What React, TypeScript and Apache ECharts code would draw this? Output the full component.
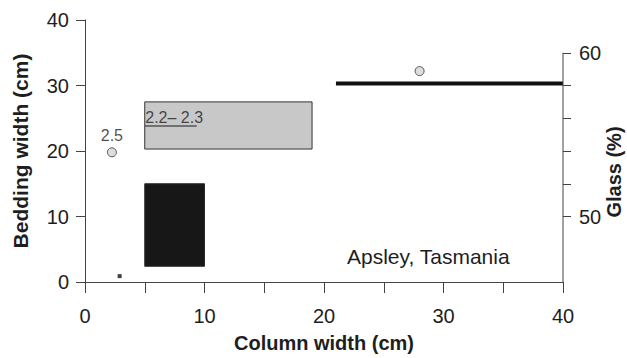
import React, { useEffect, useRef } from "react";
import * as echarts from "echarts";

const FONT = "'Liberation Sans', Arial, Helvetica, sans-serif";

// Data
const xTickValues = [0, 5, 10, 15, 20, 25, 30, 35, 40];
const xLabelValues = [0, 10, 20, 30, 40];
const yLeftValues = [0, 10, 20, 30, 40];
const glassTickValues = [50, 52, 54, 56, 58, 60];
const glassLabelValues = [50, 60];
// boxes: [x0, x1, y0, y1]
const rectBoxes = [
  [5, 19, 20.3, 27.5],
  [5, 10, 2.4, 15],
];
const rectFills = ["#c8c8c8", "#171717"];
const rectStrokes = ["#333333", "#2a2a2a"];
const glassBar = [
  [21, 30.3],
  [40, 30.3],
];
const densityUnderline = [
  [5, 23.8],
  [9.35, 23.8],
];
const circlePoints = [
  [2.25, 19.8],
  [28, 32.2],
];
const circleLabels = ["2.5", ""];
const squarePoints = [[2.9, 0.9]];
const rangeLabelPoint = [[5, 23.8]];
const rangeLabel = "2.2\u2013 2.3";
const glassAxisLine = [
  [40, 46],
  [40, 60],
];

export default function App() {
  const ref = useRef<HTMLDivElement>(null);
  useEffect(() => {
    if (!ref.current) return;
    const chart = echarts.init(ref.current, null, { renderer: "svg" });
    const axisColor = "#444";
    const textColor = "#1e1e1e";
    chart.setOption({
      animation: false,
      backgroundColor: "#ffffff",
      grid: { left: 85, right: 64, top: 20, bottom: 70 },
      xAxis: {
        type: "value",
        min: 0,
        max: 40,
        interval: 5,
        name: "Column width (cm)",
        nameLocation: "middle",
        nameGap: 51,
        nameTextStyle: { fontFamily: FONT, fontSize: 20, fontWeight: "bold", color: textColor },
        axisLine: { show: true, lineStyle: { color: axisColor, width: 1 } },
        axisTick: { show: true, length: 11, customValues: xTickValues, lineStyle: { color: axisColor } },
        axisLabel: { customValues: xLabelValues, fontFamily: FONT, fontSize: 20, color: textColor, margin: 24 },
        splitLine: { show: false },
      },
      yAxis: [
        {
          type: "value",
          min: 0,
          max: 40,
          interval: 10,
          name: "Bedding width (cm)",
          nameLocation: "middle",
          nameGap: 54,
          nameTextStyle: { fontFamily: FONT, fontSize: 21, fontWeight: "bold", color: textColor },
          axisLine: { show: true, lineStyle: { color: axisColor, width: 1 } },
          axisTick: { show: true, length: 9, customValues: yLeftValues, lineStyle: { color: axisColor } },
          axisLabel: { customValues: yLeftValues, fontFamily: FONT, fontSize: 20, color: textColor, margin: 16 },
          splitLine: { show: false },
        },
        {
          type: "value",
          position: "right",
          min: 46,
          max: 62,
          axisLine: { show: false },
          axisTick: { show: true, length: 8, customValues: glassTickValues, lineStyle: { color: axisColor } },
          axisLabel: { customValues: glassLabelValues, fontFamily: FONT, fontSize: 20, color: textColor, margin: 16 },
          splitLine: { show: false },
        },
      ],
      graphic: [
        {
          type: "text",
          x: 347,
          y: 256,
          style: { text: "Apsley, Tasmania", fontFamily: FONT, fontSize: 21, fill: textColor, textAlign: "left", textVerticalAlign: "middle" },
        },
        {
          type: "text",
          x: 614,
          y: 172,
          rotation: Math.PI / 2,
          style: { text: "Glass (%)", fontFamily: FONT, fontSize: 20, fontWeight: "bold", fill: textColor, textAlign: "center", textVerticalAlign: "middle" },
        },
      ],
      series: [
        {
          type: "custom",
          data: rectBoxes,
          encode: { x: [0, 1], y: [2, 3] },
          renderItem: (params: any, api: any) => {
            const p0 = api.coord([api.value(0), api.value(3)]);
            const p1 = api.coord([api.value(1), api.value(2)]);
            return {
              type: "rect",
              shape: { x: p0[0], y: p0[1], width: p1[0] - p0[0], height: p1[1] - p0[1] },
              style: { fill: rectFills[params.dataIndex], stroke: rectStrokes[params.dataIndex], lineWidth: 1 },
            };
          },
        },
        {
          type: "line",
          data: glassBar,
          symbol: "none",
          lineStyle: { color: "#111", width: 4 },
        },
        {
          type: "line",
          data: densityUnderline,
          symbol: "none",
          lineStyle: { color: "#555", width: 1.5 },
        },
        {
          type: "line",
          yAxisIndex: 1,
          data: glassAxisLine,
          symbol: "none",
          lineStyle: { color: axisColor, width: 1 },
        },
        {
          type: "scatter",
          data: circlePoints,
          symbol: "circle",
          symbolSize: 9,
          itemStyle: { color: "#d4d4d4", borderColor: "#333", borderWidth: 1 },
          label: {
            show: true,
            position: "top",
            distance: 4,
            formatter: (p: any) => circleLabels[p.dataIndex],
            fontFamily: FONT,
            fontSize: 16,
            color: textColor,
          },
        },
        {
          type: "scatter",
          data: squarePoints,
          symbol: "rect",
          symbolSize: 4,
          itemStyle: { color: "#111" },
        },
        {
          type: "scatter",
          data: rangeLabelPoint,
          symbolSize: 1,
          itemStyle: { color: "rgba(0,0,0,0)" },
          label: {
            show: true,
            position: [0, 0],
            align: "left",
            verticalAlign: "bottom",
            offset: [1, 0],
            formatter: () => rangeLabel,
            fontFamily: FONT,
            fontSize: 16,
            color: textColor,
          },
        },
      ],
    });
    return () => chart.dispose();
  }, []);
  return (
    <div
      ref={ref}
      style={{ position: "absolute", left: 0, top: 0, width: 627, height: 358, background: "#fff" }}
    />
  );
}
